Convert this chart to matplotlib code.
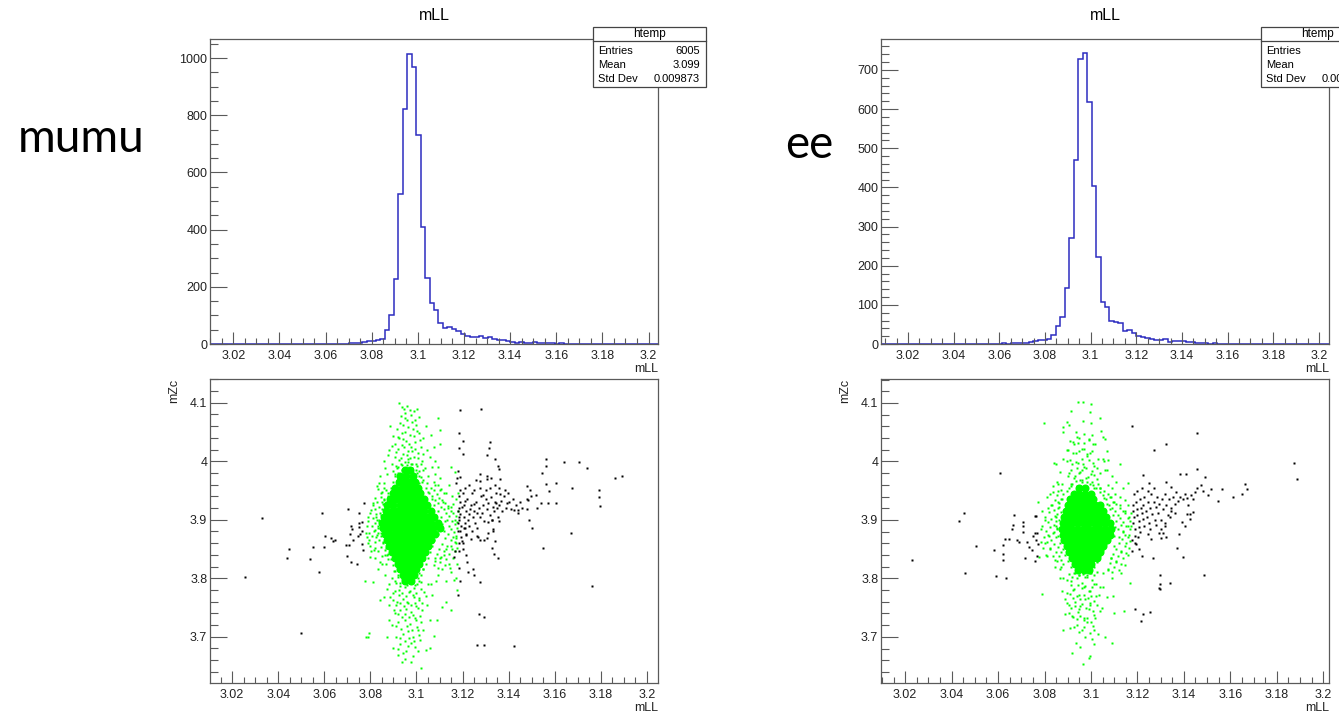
import numpy as np
import matplotlib.pyplot as plt
from matplotlib.patches import Rectangle
from matplotlib.ticker import MultipleLocator, FormatStrFormatter

plt.rcParams['font.family'] = ['Liberation Sans', 'DejaVu Sans']

W, H = 1339, 712

# ---------------------------------------------------------
# mLL histograms (100 bins each)
# ---------------------------------------------------------
mumu_hist_range = (3.0099, 3.2041)
mumu_counts = [
    0, 0, 0, 0, 0, 0, 0, 0, 0, 0,
    0, 0, 0, 0, 0, 0, 0, 0, 1, 0,
    0, 0, 0, 0, 0, 0, 1, 1, 0, 1,
    0, 2, 3, 2, 8, 12, 10, 13, 17, 50,
    102, 228, 524, 822, 1016, 970, 732, 410, 232, 142,
    120, 73, 56, 59, 52, 47, 35, 27, 25, 24,
    28, 20, 25, 19, 15, 15, 12, 6, 5, 8,
    5, 4, 6, 4, 3, 3, 2, 1, 2, 1,
    1, 0, 1, 0, 1, 0, 0, 1, 0, 0,
    0, 0, 0, 0, 0, 0, 0, 0, 0, 0,
]
mumu_stats = ("6005", "3.099", "0.009873")

ee_hist_range = (3.0082, 3.2044)
ee_counts = [
    0, 0, 0, 0, 0, 0, 0, 1, 0, 0,
    0, 0, 0, 0, 0, 0, 1, 1, 0, 1,
    0, 0, 0, 0, 0, 1, 1, 2, 1, 2,
    2, 3, 3, 4, 8, 10, 11, 13, 24, 47,
    68, 144, 271, 469, 728, 742, 618, 404, 223, 107,
    95, 60, 55, 53, 32, 36, 28, 21, 19, 15,
    14, 10, 9, 14, 6, 7, 7, 7, 5, 4,
    2, 3, 2, 1, 2, 1, 1, 0, 0, 0,
    1, 0, 0, 0, 0, 0, 0, 0, 0, 0,
    0, 1, 0, 0, 0, 0, 0, 0, 0, 0,
]
ee_stats = ("4422", "3.099", "0.009752")

# ---------------------------------------------------------
# mZc vs mLL, events outside the window (black)
# ---------------------------------------------------------
mumu_black = np.array([
    (3.0330, 3.903), (3.0257, 3.802), (3.0500, 3.707), (3.0445, 3.850),
    (3.0438, 3.835), (3.0549, 3.853), (3.0539, 3.832), (3.0577, 3.811),
    (3.0590, 3.912), (3.0597, 3.854), (3.0604, 3.873), (3.0630, 3.868),
    (3.0645, 3.866), (3.0639, 3.864), (3.0703, 3.918), (3.0694, 3.856),
    (3.0708, 3.856), (3.0698, 3.838), (3.0716, 3.889), (3.0720, 3.884),
    (3.0710, 3.876), (3.0723, 3.866), (3.0717, 3.827), (3.0744, 3.825),
    (3.0750, 3.912), (3.0749, 3.894), (3.0752, 3.887), (3.0765, 3.896),
    (3.0747, 3.873), (3.0756, 3.875), (3.0762, 3.858), (3.0769, 3.849),
    (3.0772, 3.928), (3.0765, 3.880),
    (3.1190, 4.087), (3.1280, 4.089), (3.1183, 4.049), (3.1203, 4.035),
    (3.1183, 4.022), (3.1200, 4.012), (3.1320, 4.032), (3.1314, 4.023),
    (3.1304, 4.011), (3.1339, 4.003), (3.1355, 3.992), (3.1360, 3.987),
    (3.1274, 3.978), (3.1307, 3.974), (3.1308, 3.969), (3.1324, 3.971),
    (3.1364, 3.969), (3.1341, 3.960), (3.1260, 3.968), (3.1276, 3.967),
    (3.1181, 3.984), (3.1188, 3.973), (3.1176, 3.971), (3.1173, 3.963),
    (3.1564, 4.003), (3.1561, 3.991), (3.1545, 3.980), (3.1642, 3.999),
    (3.1707, 3.999), (3.1740, 3.988), (3.1860, 3.972), (3.1893, 3.974),
    (3.1564, 3.961), (3.1606, 3.962), (3.1574, 3.949), (3.1676, 3.955),
    (3.1793, 3.950), (3.1791, 3.938), (3.1797, 3.924), (3.1570, 3.929),
    (3.1604, 3.929), (3.1541, 3.928), (3.1478, 3.958), (3.1492, 3.951),
    (3.1518, 3.943), (3.1498, 3.941), (3.1478, 3.935), (3.1484, 3.934),
    (3.1521, 3.920), (3.1480, 3.918), (3.1440, 3.917), (3.1425, 3.916),
    (3.1393, 3.929), (3.1386, 3.951), (3.1397, 3.946), (3.1359, 3.955),
    (3.1361, 3.944), (3.1368, 3.932), (3.1345, 3.928), (3.1488, 3.899),
    (3.1501, 3.885), (3.1359, 3.898), (3.1327, 3.899), (3.1334, 3.884),
    (3.1330, 3.880), (3.1339, 3.864), (3.1309, 3.896), (3.1309, 3.877),
    (3.1326, 3.852), (3.1338, 3.841), (3.1354, 3.834), (3.1295, 3.865),
    (3.1306, 3.868), (3.1276, 3.865), (3.1261, 3.872), (3.1235, 3.867),
    (3.1196, 3.863), (3.1215, 3.874), (3.1179, 3.880), (3.1167, 3.847),
    (3.1186, 3.847), (3.1164, 3.836), (3.1219, 3.828), (3.1186, 3.818),
    (3.1190, 3.796), (3.1222, 3.810), (3.1247, 3.816), (3.1251, 3.806),
    (3.1277, 3.793), (3.1179, 3.772), (3.1551, 3.852), (3.1670, 3.878),
    (3.1763, 3.786), (3.1271, 3.739), (3.1291, 3.733), (3.1262, 3.685),
    (3.1291, 3.685), (3.1422, 3.684),
    (3.1185, 3.940), (3.1190, 3.930), (3.1185, 3.920), (3.1190, 3.910),
    (3.1185, 3.900), (3.1192, 3.890), (3.1188, 3.880), (3.1195, 3.870),
    (3.1200, 3.945), (3.1205, 3.925), (3.1205, 3.905), (3.1210, 3.895),
    (3.1205, 3.885), (3.1215, 3.915), (3.1220, 3.935), (3.1225, 3.900),
    (3.1230, 3.910), (3.1228, 3.890), (3.1235, 3.925), (3.1240, 3.945),
    (3.1245, 3.905), (3.1250, 3.915), (3.1255, 3.895), (3.1260, 3.930),
    (3.1262, 3.885), (3.1270, 3.920), (3.1275, 3.905), (3.1280, 3.940),
    (3.1285, 3.912), (3.1290, 3.925), (3.1295, 3.898), (3.1300, 3.935),
    (3.1305, 3.918), (3.1312, 3.928), (3.1318, 3.908), (3.1322, 3.938),
    (3.1330, 3.922), (3.1335, 3.915), (3.1340, 3.930), (3.1345, 3.945),
    (3.1350, 3.920), (3.1355, 3.905), (3.1360, 3.925), (3.1370, 3.915),
    (3.1380, 3.940), (3.1390, 3.920), (3.1400, 3.930), (3.1410, 3.918),
    (3.1420, 3.935), (3.1430, 3.925), (3.1440, 3.912), (3.1450, 3.930),
    (3.1460, 3.920), (3.1200, 3.860), (3.1215, 3.875), (3.1240, 3.880),
    (3.1265, 3.870), (3.1190, 3.950), (3.1210, 3.955), (3.1230, 3.960),
    (3.1250, 3.950), (3.1275, 3.955), (3.1300, 3.950), (3.1320, 3.955),
    (3.1180, 3.895), (3.1182, 3.915), (3.1183, 3.905), (3.1197, 3.922),
    (3.1212, 3.932), (3.1232, 3.918), (3.1248, 3.926), (3.1263, 3.912),
    (3.1290, 3.942), (3.1328, 3.900), (3.1210, 3.885), (3.1185, 3.860),
    (3.1200, 3.850), (3.1215, 3.840),
])

ee_black = np.array([
    (3.0231, 3.831), (3.0432, 3.898), (3.0452, 3.912), (3.0459, 3.809),
    (3.0503, 3.855), (3.0581, 3.848), (3.0593, 3.804), (3.0608, 3.980),
    (3.0620, 3.841), (3.0622, 3.831), (3.0622, 3.857), (3.0628, 3.868),
    (3.0634, 3.800), (3.0648, 3.868), (3.0661, 3.884), (3.0664, 3.891),
    (3.0668, 3.908), (3.0682, 3.866), (3.0692, 3.863), (3.0707, 3.896),
    (3.0708, 3.889), (3.0706, 3.880), (3.0714, 3.835), (3.0724, 3.863),
    (3.0735, 3.853), (3.0748, 3.848), (3.0751, 3.873), (3.0760, 3.829),
    (3.0766, 3.839), (3.0759, 3.906), (3.0765, 3.906), (3.0759, 3.877),
    (3.0768, 3.877), (3.0762, 3.866), (3.0771, 3.858),
    (3.1176, 4.061), (3.1455, 4.048), (3.1270, 4.020), (3.1324, 4.029),
    (3.1226, 3.976), (3.1382, 3.979), (3.1409, 3.979), (3.1458, 3.987),
    (3.1250, 3.963), (3.1324, 3.964), (3.1490, 3.973), (3.1476, 3.960),
    (3.1343, 3.956), (3.1455, 3.954), (3.1482, 3.949), (3.1519, 3.952),
    (3.1563, 3.952), (3.1504, 3.943), (3.1549, 3.932), (3.1610, 3.939),
    (3.1651, 3.945), (3.1664, 3.962), (3.1673, 3.953), (3.1876, 3.997),
    (3.1886, 3.970), (3.1485, 3.805), (3.1296, 3.805), (3.1293, 3.784),
    (3.1296, 3.782), (3.1299, 3.790), (3.1339, 3.792), (3.1189, 3.747),
    (3.1226, 3.739), (3.1253, 3.742), (3.1215, 3.727), (3.1369, 3.852),
    (3.1398, 3.836), (3.1267, 3.835), (3.1218, 3.838), (3.1176, 3.846),
    (3.1176, 3.866), (3.1196, 3.858), (3.1204, 3.870), (3.1245, 3.876),
    (3.1257, 3.867), (3.1291, 3.878), (3.1311, 3.878), (3.1302, 3.869),
    (3.1379, 3.876), (3.1319, 3.889), (3.1392, 3.897), (3.1419, 3.925),
    (3.1426, 3.910), (3.1415, 3.910), (3.1439, 3.914), (3.1426, 3.902),
    (3.1343, 3.916),
    (3.1180, 3.925), (3.1182, 3.915), (3.1185, 3.905), (3.1183, 3.895),
    (3.1188, 3.885), (3.1190, 3.872), (3.1195, 3.930), (3.1198, 3.918),
    (3.1200, 3.908), (3.1205, 3.898), (3.1208, 3.888), (3.1210, 3.935),
    (3.1215, 3.920), (3.1218, 3.912), (3.1222, 3.902), (3.1225, 3.925),
    (3.1230, 3.940), (3.1235, 3.915), (3.1240, 3.905), (3.1245, 3.930),
    (3.1250, 3.895), (3.1255, 3.920), (3.1260, 3.945), (3.1265, 3.910),
    (3.1270, 3.930), (3.1275, 3.900), (3.1280, 3.922), (3.1285, 3.940),
    (3.1290, 3.912), (3.1295, 3.928), (3.1300, 3.900), (3.1305, 3.935),
    (3.1312, 3.918), (3.1318, 3.945), (3.1325, 3.925), (3.1330, 3.908),
    (3.1338, 3.935), (3.1345, 3.920), (3.1352, 3.940), (3.1360, 3.928),
    (3.1368, 3.948), (3.1375, 3.932), (3.1385, 3.940), (3.1395, 3.935),
    (3.1405, 3.945), (3.1415, 3.938), (3.1430, 3.942), (3.1440, 3.935),
    (3.1450, 3.948), (3.1210, 3.880), (3.1230, 3.890), (3.1255, 3.885),
    (3.1280, 3.892), (3.1300, 3.885), (3.1320, 3.895), (3.1340, 3.905),
    (3.1360, 3.912), (3.1185, 3.945), (3.1200, 3.950), (3.1220, 3.955),
    (3.1245, 3.950), (3.1270, 3.955), (3.1190, 3.860), (3.1205, 3.850),
    (3.1325, 3.870), (3.1405, 3.890),
])

# ---------------------------------------------------------
# events inside the window (green): halo points + dense core rows
# ---------------------------------------------------------
mumu_green = np.array([
    # top of the column
    (3.0922, 4.0995), (3.0936, 4.093), (3.0945, 4.090), (3.0960, 4.095),
    (3.0952, 4.083), (3.0970, 4.088), (3.0990, 4.086), (3.1003, 4.090),
    (3.1010, 4.075), (3.0931, 4.078), (3.0960, 4.070), (3.0980, 4.067),
    (3.1000, 4.062), (3.0940, 4.062), (3.0898, 4.043), (3.0915, 4.055),
    (3.0925, 4.040), (3.0950, 4.050), (3.0970, 4.045), (3.0985, 4.055),
    (3.1012, 4.048), (3.1030, 4.040), (3.1095, 4.074), (3.1104, 4.054),
    (3.1100, 4.030), (3.0905, 4.030), (3.0935, 4.028), (3.0955, 4.035),
    (3.0975, 4.025), (3.0995, 4.032), (3.1020, 4.025), (3.1045, 4.020),
    (3.0880, 4.020), (3.0912, 4.015), (3.0940, 4.012), (3.0962, 4.018),
    (3.0990, 4.008), (3.1008, 4.014), (3.0925, 4.002), (3.0950, 3.998),
    (3.0972, 4.005), (3.0998, 3.995), (3.1025, 4.000), (3.0895, 3.995),
    (3.0915, 3.988), (3.0938, 3.985), (3.0960, 3.982), (3.0982, 3.988),
    (3.1004, 3.980), (3.1030, 3.985), (3.0870, 3.978), (3.0905, 3.975),
    (3.0928, 3.972), (3.0950, 3.976), (3.0975, 3.972), (3.0995, 3.975),
    (3.1018, 3.973), (3.1050, 3.975), (3.1080, 3.978), (3.1095, 3.990),
    (3.1080, 4.000), (3.0860, 4.000), (3.1168, 3.982), (3.1150, 3.990),
    (3.0898, 3.983), (3.0912, 3.992), (3.0921, 3.979), (3.0934, 3.996),
    (3.0945, 3.988), (3.0957, 3.993), (3.0963, 4.003), (3.0978, 3.996),
    (3.0986, 3.980), (3.1003, 3.991), (3.1012, 3.984), (3.1021, 3.995),
    (3.1038, 3.988), (3.0908, 4.008), (3.0921, 4.021), (3.0933, 4.006),
    (3.0947, 4.024), (3.0958, 4.011), (3.0969, 4.029), (3.0981, 4.017),
    (3.0995, 4.021), (3.1007, 4.005), (3.1015, 4.036), (3.1029, 4.012),
    (3.0892, 4.026), (3.0918, 4.041), (3.0942, 4.038), (3.0965, 4.058),
    (3.0988, 4.043), (3.1002, 4.052), (3.0928, 4.065), (3.0951, 4.073),
    (3.0975, 4.079), (3.0993, 4.071), (3.0939, 4.048), (3.1040, 4.060),
    (3.1063, 4.045), (3.1074, 4.025), (3.0875, 4.010), (3.0862, 3.988),
    (3.0885, 4.060), (3.1058, 4.008), (3.1068, 3.990), (3.0918, 3.968),
    (3.0942, 3.965), (3.0969, 3.963), (3.0992, 3.968), (3.1013, 3.962),
    (3.1030, 3.968),
    # just outside the saturated core
    (3.0858, 3.935), (3.0865, 3.925), (3.0852, 3.918), (3.0845, 3.908),
    (3.0838, 3.898), (3.0840, 3.885), (3.0848, 3.872), (3.0855, 3.862),
    (3.0866, 3.852), (3.0878, 3.842), (3.0888, 3.832), (3.0898, 3.822),
    (3.0905, 3.812), (3.0918, 3.802), (3.0930, 3.792), (3.1010, 3.795),
    (3.1020, 3.805), (3.1030, 3.815), (3.1040, 3.825), (3.1048, 3.835),
    (3.1058, 3.845), (3.1068, 3.855), (3.1078, 3.865), (3.1092, 3.875),
    (3.1105, 3.882), (3.1112, 3.892), (3.1105, 3.905), (3.1092, 3.915),
    (3.1078, 3.925), (3.1068, 3.935), (3.1055, 3.945), (3.1040, 3.955),
    (3.1025, 3.965), (3.1012, 3.975), (3.0998, 3.985), (3.0875, 3.945),
    (3.0888, 3.955), (3.0898, 3.965), (3.0908, 3.978), (3.0918, 3.990),
    (3.0980, 3.995), (3.0962, 3.999), (3.0936, 3.993), (3.1118, 3.880),
    (3.1125, 3.898), (3.1088, 3.888), (3.0832, 3.890), (3.0826, 3.905),
    (3.0835, 3.878), (3.0850, 3.930),
    # left and right flanks of the core
    (3.0843, 3.974), (3.0839, 3.962), (3.0821, 3.937), (3.0802, 3.917),
    (3.0810, 3.925), (3.0790, 3.905), (3.0785, 3.890), (3.0780, 3.878),
    (3.0792, 3.866), (3.0800, 3.855), (3.0815, 3.848), (3.0800, 3.836),
    (3.0820, 3.835), (3.0825, 3.870), (3.0830, 3.900), (3.0818, 3.882),
    (3.0775, 3.795), (3.0812, 3.793), (3.0835, 3.815), (3.0850, 3.825),
    (3.0865, 3.840), (3.0845, 3.945), (3.0860, 3.955), (3.0870, 3.930),
    (3.0835, 3.952), (3.0852, 3.947), (3.0868, 3.951), (3.0846, 3.938),
    (3.0861, 3.934), (3.0829, 3.931), (3.0877, 3.940), (3.0838, 3.922),
    (3.0853, 3.926), (3.0818, 3.918), (3.0866, 3.919), (3.0842, 3.912),
    (3.0826, 3.909), (3.0859, 3.907), (3.0811, 3.903), (3.0837, 3.899),
    (3.0848, 3.893), (3.0822, 3.894), (3.0805, 3.889), (3.0832, 3.886),
    (3.0815, 3.881), (3.0846, 3.878), (3.0827, 3.874), (3.0808, 3.872),
    (3.0839, 3.866), (3.0855, 3.861), (3.0821, 3.862), (3.0846, 3.853),
    (3.0862, 3.848), (3.0833, 3.846), (3.0871, 3.840), (3.0852, 3.838),
    (3.0878, 3.832), (3.0843, 3.828), (3.0868, 3.824), (3.0795, 3.878),
    (3.0788, 3.897), (3.0798, 3.912), (3.0812, 3.928), (3.0791, 3.860),
    (3.0803, 3.846), (3.0819, 3.852), (3.0784, 3.871), (3.0830, 3.958),
    (3.0858, 3.962),
    (3.1080, 3.960), (3.1100, 3.950), (3.1120, 3.945), (3.1115, 3.930),
    (3.1135, 3.920), (3.1150, 3.915), (3.1165, 3.900), (3.1175, 3.885),
    (3.1160, 3.870), (3.1170, 3.860), (3.1150, 3.855), (3.1130, 3.850),
    (3.1120, 3.840), (3.1100, 3.835), (3.1080, 3.830), (3.1160, 3.835),
    (3.1140, 3.825), (3.1175, 3.825), (3.1110, 3.815), (3.1150, 3.810),
    (3.1170, 3.800), (3.1095, 3.805), (3.1130, 3.795), (3.1161, 3.797),
    (3.1175, 3.780), (3.1065, 3.790), (3.1085, 3.795), (3.1178, 3.915),
    (3.1178, 3.945), (3.1140, 3.960), (3.1100, 3.972),
    (3.1045, 3.962), (3.1062, 3.955), (3.1078, 3.950), (3.1052, 3.948),
    (3.1088, 3.944), (3.1069, 3.941), (3.1097, 3.937), (3.1080, 3.933),
    (3.1112, 3.934), (3.1094, 3.928), (3.1125, 3.928), (3.1105, 3.922),
    (3.1138, 3.924), (3.1118, 3.918), (3.1150, 3.921), (3.1128, 3.912),
    (3.1160, 3.912), (3.1142, 3.906), (3.1172, 3.907), (3.1133, 3.900),
    (3.1155, 3.898), (3.1168, 3.893), (3.1140, 3.890), (3.1176, 3.896),
    (3.1150, 3.884), (3.1162, 3.879), (3.1137, 3.876), (3.1173, 3.873),
    (3.1122, 3.868), (3.1148, 3.865), (3.1165, 3.862), (3.1110, 3.858),
    (3.1133, 3.855), (3.1155, 3.850), (3.1098, 3.850), (3.1120, 3.846),
    (3.1143, 3.842), (3.1090, 3.842), (3.1108, 3.837), (3.1130, 3.833),
    (3.1167, 3.846), (3.1082, 3.834), (3.1100, 3.828), (3.1122, 3.822),
    (3.1075, 3.823), (3.1092, 3.818), (3.1145, 3.817), (3.1170, 3.868),
    (3.1177, 3.852), (3.1158, 3.927), (3.1172, 3.936), (3.1108, 3.952),
    (3.1128, 3.946), (3.1152, 3.941), (3.1075, 3.965), (3.1093, 3.960),
    # lower column
    (3.0902, 3.812), (3.0918, 3.806), (3.0931, 3.814), (3.0947, 3.809),
    (3.0963, 3.812), (3.0979, 3.806), (3.0994, 3.813), (3.1010, 3.809),
    (3.1027, 3.815), (3.0895, 3.801), (3.0912, 3.792), (3.0927, 3.786),
    (3.0943, 3.793), (3.0958, 3.788), (3.0974, 3.791), (3.0989, 3.783),
    (3.1003, 3.790), (3.1019, 3.794), (3.0906, 3.778), (3.0922, 3.771),
    (3.0938, 3.774), (3.0953, 3.769), (3.0969, 3.776), (3.0984, 3.771),
    (3.1000, 3.774), (3.1013, 3.766), (3.1032, 3.776), (3.0897, 3.762),
    (3.0913, 3.754), (3.0930, 3.757), (3.0945, 3.752), (3.0960, 3.760),
    (3.0977, 3.754), (3.0992, 3.758), (3.1008, 3.749), (3.1025, 3.758),
    (3.0903, 3.745), (3.0921, 3.738), (3.0937, 3.734), (3.0952, 3.739),
    (3.0966, 3.733), (3.0983, 3.737), (3.0998, 3.729), (3.1016, 3.736),
    (3.1045, 3.755), (3.1052, 3.790), (3.1068, 3.772), (3.0872, 3.782),
    (3.0865, 3.805), (3.0885, 3.768),
    (3.0920, 3.669), (3.0938, 3.657), (3.1021, 3.646), (3.0870, 3.700),
    (3.0782, 3.700), (3.0790, 3.700), (3.0795, 3.707), (3.0843, 3.762),
    (3.0857, 3.768), (3.0900, 3.680), (3.0930, 3.688), (3.0955, 3.675),
    (3.0975, 3.690), (3.0995, 3.682), (3.1015, 3.695), (3.1040, 3.678),
    (3.0910, 3.700), (3.0940, 3.705), (3.0965, 3.710), (3.0985, 3.700),
    (3.1005, 3.712), (3.0895, 3.720), (3.0920, 3.725), (3.0948, 3.728),
    (3.0970, 3.722), (3.0992, 3.732), (3.1020, 3.725), (3.1060, 3.728),
    (3.1088, 3.728), (3.0905, 3.740), (3.0928, 3.745), (3.0955, 3.748),
    (3.0978, 3.742), (3.1000, 3.752), (3.1025, 3.745), (3.1150, 3.745),
    (3.0880, 3.755), (3.0915, 3.760), (3.0940, 3.765), (3.0962, 3.758),
    (3.0988, 3.768), (3.1010, 3.762), (3.1040, 3.770), (3.0898, 3.775),
    (3.0925, 3.780), (3.0950, 3.785), (3.0972, 3.778), (3.0995, 3.788),
    (3.1018, 3.782), (3.0880, 3.790), (3.0908, 3.795), (3.0935, 3.798),
    (3.0960, 3.800), (3.0985, 3.795), (3.1005, 3.800), (3.1060, 3.680),
    (3.1130, 3.760), (3.1110, 3.750),
    (3.0912, 3.718), (3.0934, 3.713), (3.0958, 3.718), (3.0979, 3.711),
    (3.1001, 3.716), (3.0927, 3.697), (3.0949, 3.693), (3.0967, 3.698),
    (3.0990, 3.692), (3.1012, 3.703), (3.0918, 3.679), (3.0943, 3.672),
    (3.0962, 3.684), (3.0985, 3.667), (3.1008, 3.675), (3.0952, 3.662),
    (3.0978, 3.656), (3.1030, 3.712), (3.1075, 3.702), (3.0880, 3.728),
])
mumu_core_rows = [
    (3.985, [3.0948, 3.0972]),
    (3.975, [3.0930, 3.0955, 3.0985]),
    (3.965, [3.0922, 3.0946, 3.0970, 3.0995]),
    (3.955, [3.0908, 3.0935, 3.0958, 3.0982, 3.1005]),
    (3.945, [3.0898, 3.0922, 3.0945, 3.0968, 3.0990, 3.1015]),
    (3.935, [3.0885, 3.0912, 3.0936, 3.0960, 3.0982, 3.1005, 3.1032]),
    (3.925, [3.0872, 3.0900, 3.0927, 3.0950, 3.0974, 3.0997, 3.1020, 3.1045]),
    (3.915, [3.0866, 3.0892, 3.0916, 3.0940, 3.0963, 3.0987, 3.1010, 3.1034, 3.1062]),
    (3.905, [3.0858, 3.0882, 3.0906, 3.0930, 3.0954, 3.0978, 3.1002, 3.1026, 3.1050, 3.1078]),
    (3.895, [3.0850, 3.0872, 3.0896, 3.0920, 3.0944, 3.0968, 3.0992, 3.1016, 3.1040, 3.1064, 3.1092]),
    (3.885, [3.0855, 3.0878, 3.0902, 3.0926, 3.0950, 3.0974, 3.0998, 3.1022, 3.1046, 3.1070, 3.1100]),
    (3.875, [3.0862, 3.0886, 3.0910, 3.0934, 3.0958, 3.0982, 3.1006, 3.1030, 3.1054, 3.1082]),
    (3.865, [3.0872, 3.0896, 3.0920, 3.0944, 3.0968, 3.0992, 3.1016, 3.1040, 3.1062]),
    (3.855, [3.0880, 3.0905, 3.0930, 3.0954, 3.0978, 3.1002, 3.1026, 3.1048]),
    (3.845, [3.0895, 3.0918, 3.0942, 3.0966, 3.0990, 3.1014, 3.1035]),
    (3.835, [3.0908, 3.0932, 3.0956, 3.0980, 3.1004, 3.1022]),
    (3.825, [3.0918, 3.0942, 3.0966, 3.0990, 3.1010]),
    (3.815, [3.0928, 3.0952, 3.0976, 3.0998]),
    (3.805, [3.0940, 3.0965, 3.0988]),
    (3.795, [3.0950, 3.0975]),
]

ee_green = np.array([
    # top of the column
    (3.0943, 4.101), (3.0965, 4.101), (3.0999, 4.098), (3.0965, 4.070),
    (3.0995, 4.085), (3.1000, 4.065), (3.0914, 4.087), (3.0896, 4.068),
    (3.0905, 4.062), (3.0881, 4.059), (3.0878, 4.050), (3.0934, 4.051),
    (3.0798, 4.065), (3.1040, 4.074), (3.1054, 4.042), (3.0910, 4.035),
    (3.0928, 4.030), (3.0950, 4.040), (3.0968, 4.032), (3.0990, 4.038),
    (3.1010, 4.030), (3.0900, 4.020), (3.0935, 4.015), (3.0960, 4.022),
    (3.0982, 4.012), (3.1005, 4.018), (3.1050, 4.005), (3.1075, 4.003),
    (3.1125, 3.995), (3.0840, 3.997), (3.0850, 3.996), (3.0855, 3.965),
    (3.0875, 3.962), (3.0895, 4.000), (3.0920, 3.995), (3.0945, 3.998),
    (3.0968, 3.990), (3.0990, 4.002), (3.1015, 3.992), (3.0905, 3.980),
    (3.0930, 3.975), (3.0955, 3.982), (3.0978, 3.972), (3.1000, 3.978),
    (3.1025, 3.970), (3.1060, 3.985), (3.1090, 3.975), (3.1110, 3.965),
    (3.1161, 3.963), (3.1140, 3.955), (3.0915, 3.962), (3.0940, 3.958),
    (3.0962, 3.965), (3.0985, 3.955), (3.1008, 3.960), (3.1040, 3.955),
    (3.0900, 3.975), (3.0915, 3.985), (3.0925, 3.971), (3.0938, 3.989),
    (3.0948, 3.980), (3.0960, 3.986), (3.0966, 3.996), (3.0980, 3.989),
    (3.0988, 3.973), (3.1005, 3.984), (3.1015, 3.977), (3.1024, 3.988),
    (3.1040, 3.981), (3.0910, 4.002), (3.0924, 4.014), (3.0936, 3.999),
    (3.0950, 4.017), (3.0961, 4.004), (3.0972, 4.022), (3.0984, 4.010),
    (3.0997, 4.014), (3.1010, 3.998), (3.1018, 4.029), (3.1032, 4.005),
    (3.0895, 4.019), (3.0921, 4.034), (3.0945, 4.031), (3.0968, 4.047),
    (3.0990, 4.036), (3.1004, 4.045), (3.0940, 4.041), (3.1045, 4.052),
    (3.1062, 4.038), (3.1070, 4.018), (3.0878, 4.004), (3.0865, 3.982),
    (3.1058, 4.000), (3.1068, 3.985), (3.0920, 3.962), (3.0945, 3.958),
    (3.0970, 3.956), (3.0995, 3.961), (3.1015, 3.955), (3.1032, 3.961),
    (3.0905, 3.955), (3.0955, 3.968), (3.0985, 3.964),
    # just outside the saturated core
    (3.0880, 3.945), (3.0870, 3.935), (3.0862, 3.922), (3.0855, 3.910),
    (3.0850, 3.898), (3.0855, 3.884), (3.0860, 3.872), (3.0868, 3.860),
    (3.0878, 3.850), (3.0888, 3.840), (3.0900, 3.830), (3.0912, 3.820),
    (3.0925, 3.810), (3.0950, 3.805), (3.0975, 3.803), (3.1000, 3.810),
    (3.1015, 3.820), (3.1028, 3.828), (3.1040, 3.838), (3.1052, 3.848),
    (3.1065, 3.858), (3.1078, 3.868), (3.1090, 3.878), (3.1102, 3.888),
    (3.1110, 3.898), (3.1095, 3.908), (3.1082, 3.918), (3.1068, 3.928),
    (3.1055, 3.938), (3.1038, 3.948), (3.1020, 3.955), (3.1005, 3.965),
    (3.0960, 3.968), (3.0935, 3.966), (3.0912, 3.958), (3.0895, 3.950),
    (3.1115, 3.885), (3.1098, 3.872), (3.0848, 3.890), (3.0858, 3.930),
    # left and right flanks of the core
    (3.0773, 3.930), (3.0790, 3.915), (3.0810, 3.940), (3.0830, 3.925),
    (3.0800, 3.900), (3.0785, 3.885), (3.0815, 3.875), (3.0800, 3.860),
    (3.0825, 3.850), (3.0776, 3.836), (3.0810, 3.838), (3.0845, 3.832),
    (3.0860, 3.950), (3.0870, 3.845), (3.0850, 3.905), (3.0840, 3.880),
    (3.0838, 3.948), (3.0855, 3.942), (3.0870, 3.951), (3.0846, 3.934),
    (3.0862, 3.929), (3.0831, 3.925), (3.0877, 3.936), (3.0842, 3.917),
    (3.0856, 3.921), (3.0820, 3.913), (3.0869, 3.913), (3.0845, 3.906),
    (3.0828, 3.902), (3.0861, 3.899), (3.0813, 3.896), (3.0839, 3.892),
    (3.0852, 3.886), (3.0824, 3.887), (3.0808, 3.881), (3.0835, 3.878),
    (3.0818, 3.872), (3.0849, 3.871), (3.0829, 3.866), (3.0810, 3.862),
    (3.0841, 3.858), (3.0857, 3.853), (3.0823, 3.852), (3.0848, 3.845),
    (3.0864, 3.839), (3.0835, 3.838), (3.0873, 3.832), (3.0854, 3.829),
    (3.0880, 3.824), (3.0845, 3.820), (3.0868, 3.816), (3.0797, 3.870),
    (3.0790, 3.890), (3.0800, 3.905), (3.0815, 3.921), (3.0793, 3.852),
    (3.0806, 3.840), (3.0786, 3.863), (3.0835, 3.958), (3.0860, 3.962),
    (3.0822, 3.945),
    (3.1080, 3.940), (3.1100, 3.930), (3.1125, 3.925), (3.1145, 3.915),
    (3.1165, 3.905), (3.1160, 3.890), (3.1140, 3.880), (3.1165, 3.875),
    (3.1120, 3.870), (3.1150, 3.860), (3.1100, 3.855), (3.1130, 3.845),
    (3.1160, 3.840), (3.1085, 3.835), (3.1110, 3.828), (3.1145, 3.822),
    (3.1075, 3.815), (3.1130, 3.810), (3.1170, 3.792), (3.1090, 3.800),
    (3.1050, 3.810), (3.1095, 3.770), (3.1101, 3.740), (3.1143, 3.744),
    (3.1040, 3.955), (3.1058, 3.950), (3.1075, 3.945), (3.1050, 3.942),
    (3.1085, 3.939), (3.1066, 3.935), (3.1095, 3.931), (3.1078, 3.926),
    (3.1110, 3.927), (3.1092, 3.921), (3.1123, 3.921), (3.1104, 3.915),
    (3.1136, 3.916), (3.1116, 3.909), (3.1148, 3.911), (3.1126, 3.903),
    (3.1158, 3.903), (3.1140, 3.897), (3.1168, 3.898), (3.1131, 3.891),
    (3.1152, 3.889), (3.1166, 3.884), (3.1138, 3.881), (3.1172, 3.890),
    (3.1148, 3.875), (3.1160, 3.870), (3.1135, 3.867), (3.1170, 3.864),
    (3.1120, 3.860), (3.1145, 3.856), (3.1162, 3.852), (3.1108, 3.850),
    (3.1130, 3.847), (3.1152, 3.843), (3.1096, 3.842), (3.1118, 3.838),
    (3.1140, 3.834), (3.1088, 3.834), (3.1106, 3.829), (3.1128, 3.825),
    (3.1080, 3.826), (3.1098, 3.820), (3.1120, 3.815), (3.1073, 3.816),
    (3.1090, 3.811), (3.1160, 3.925), (3.1172, 3.912), (3.1105, 3.945),
    (3.1125, 3.940), (3.1148, 3.934), (3.1072, 3.960), (3.1090, 3.955),
    # lower column
    (3.1090, 3.690), (3.1060, 3.700), (3.0790, 3.774), (3.0870, 3.820),
    (3.0964, 3.653), (3.0990, 3.664), (3.0998, 3.668), (3.0918, 3.672),
    (3.0878, 3.711), (3.0890, 3.739), (3.1004, 3.697), (3.1030, 3.705),
    (3.0935, 3.690), (3.0955, 3.682), (3.0975, 3.700), (3.1015, 3.688),
    (3.0910, 3.715), (3.0940, 3.720), (3.0962, 3.712), (3.0985, 3.725),
    (3.1010, 3.718), (3.0920, 3.735), (3.0945, 3.742), (3.0968, 3.732),
    (3.0990, 3.748), (3.1012, 3.738), (3.1040, 3.745), (3.0905, 3.755),
    (3.0930, 3.760), (3.0952, 3.752), (3.0975, 3.765), (3.0998, 3.758),
    (3.1022, 3.770), (3.0895, 3.775), (3.0922, 3.780), (3.0948, 3.772),
    (3.0970, 3.785), (3.0994, 3.778), (3.1015, 3.790), (3.0912, 3.795),
    (3.0938, 3.800), (3.0960, 3.792), (3.0982, 3.805), (3.1005, 3.798),
    (3.0880, 3.800), (3.1040, 3.785),
    (3.0905, 3.808), (3.0920, 3.802), (3.0933, 3.810), (3.0949, 3.805),
    (3.0965, 3.808), (3.0981, 3.802), (3.0996, 3.809), (3.1012, 3.805),
    (3.1028, 3.811), (3.0898, 3.797), (3.0914, 3.788), (3.0929, 3.782),
    (3.0945, 3.789), (3.0960, 3.784), (3.0976, 3.787), (3.0991, 3.779),
    (3.1005, 3.786), (3.1021, 3.790), (3.0908, 3.774), (3.0924, 3.767),
    (3.0940, 3.770), (3.0955, 3.765), (3.0971, 3.772), (3.0986, 3.767),
    (3.1002, 3.770), (3.1015, 3.762), (3.1034, 3.772), (3.0899, 3.758),
    (3.0915, 3.750), (3.0932, 3.753), (3.0947, 3.748), (3.0962, 3.756),
    (3.0979, 3.750), (3.0994, 3.754), (3.1010, 3.745), (3.1027, 3.754),
    (3.0905, 3.741), (3.0923, 3.734), (3.0939, 3.730), (3.0954, 3.735),
    (3.0968, 3.729), (3.0985, 3.733), (3.1000, 3.725), (3.1018, 3.732),
    (3.1047, 3.750), (3.1054, 3.786), (3.1070, 3.768), (3.0874, 3.778),
    (3.0867, 3.801), (3.0887, 3.764), (3.0928, 3.716), (3.0950, 3.709),
    (3.0972, 3.716), (3.0994, 3.706), (3.1012, 3.712),
])
ee_core_rows = [
    (3.955, [3.0950, 3.0975]),
    (3.945, [3.0925, 3.0950, 3.0975, 3.1000]),
    (3.935, [3.0910, 3.0935, 3.0960, 3.0984, 3.1010]),
    (3.925, [3.0900, 3.0922, 3.0946, 3.0970, 3.0994, 3.1018, 3.1040]),
    (3.915, [3.0892, 3.0914, 3.0936, 3.0960, 3.0984, 3.1008, 3.1032, 3.1052]),
    (3.905, [3.0885, 3.0906, 3.0928, 3.0952, 3.0976, 3.1000, 3.1024, 3.1048, 3.1066]),
    (3.895, [3.0878, 3.0898, 3.0920, 3.0944, 3.0968, 3.0992, 3.1016, 3.1040, 3.1062, 3.1080]),
    (3.885, [3.0875, 3.0894, 3.0916, 3.0940, 3.0964, 3.0988, 3.1012, 3.1036, 3.1060, 3.1085]),
    (3.875, [3.0880, 3.0900, 3.0923, 3.0947, 3.0971, 3.0995, 3.1019, 3.1043, 3.1066, 3.1082]),
    (3.865, [3.0886, 3.0906, 3.0930, 3.0954, 3.0978, 3.1002, 3.1026, 3.1050, 3.1068]),
    (3.855, [3.0895, 3.0916, 3.0940, 3.0964, 3.0988, 3.1012, 3.1036, 3.1054]),
    (3.845, [3.0905, 3.0926, 3.0950, 3.0974, 3.0998, 3.1022, 3.1040]),
    (3.835, [3.0918, 3.0940, 3.0962, 3.0986, 3.1008, 3.1028]),
    (3.825, [3.0930, 3.0954, 3.0978, 3.1000]),
    (3.815, [3.0945, 3.0968, 3.0990]),
]

mumu_scatter_range = (3.0104, 3.2048, 3.6209, 4.1405)
ee_scatter_range = (3.0096, 3.2025, 3.6210, 4.1410)

FRAME = '#5a5a5a'
HIST_BLUE = '#2c2cc0'
GREEN = '#00ff00'

fig = plt.figure(figsize=(W / 100, H / 100), dpi=100)


def px_axes(left, top, right, bottom):
    return fig.add_axes([left / W, 1 - bottom / H, (right - left) / W, (bottom - top) / H])


def root_style(ax, ymajor, yminor, ylen, xlen):
    for sp in ax.spines.values():
        sp.set_color(FRAME)
        sp.set_linewidth(0.9)
    ax.xaxis.set_major_locator(MultipleLocator(0.02))
    ax.xaxis.set_minor_locator(MultipleLocator(0.005))
    ax.xaxis.set_major_formatter(FormatStrFormatter('%g'))
    ax.yaxis.set_major_locator(MultipleLocator(ymajor))
    ax.yaxis.set_minor_locator(MultipleLocator(yminor))
    ax.yaxis.set_major_formatter(FormatStrFormatter('%g'))
    ax.tick_params(which='both', direction='in', top=False, right=False,
                   color=FRAME, width=0.8, labelsize=9, labelcolor='#222222')
    ax.tick_params(axis='x', which='major', length=xlen, pad=4)
    ax.tick_params(axis='x', which='minor', length=xlen / 2)
    ax.tick_params(axis='y', which='major', length=ylen, pad=2)
    ax.tick_params(axis='y', which='minor', length=ylen / 2)
    ax.set_xlabel('mLL', loc='right', fontsize=9, labelpad=1, color='#222222')


def stats_box(x0, y0, x1, yline, rows, y1):
    # white box with a header cell, in pixel units of the figure
    box = Rectangle((x0 / W, 1 - y1 / H), (x1 - x0) / W, (y1 - y0) / H,
                    transform=fig.transFigure, facecolor='white',
                    edgecolor='#444444', linewidth=0.9, zorder=5)
    fig.patches.append(box)
    fig.add_artist(plt.Line2D([x0 / W, x1 / W], [1 - yline / H, 1 - yline / H],
                              color='#444444', linewidth=0.9, zorder=6))
    fig.text((x0 + x1) / 2 / W, 1 - (y0 + yline) / 2 / H, 'htemp',
             ha='center', va='center', fontsize=8.5, zorder=7)
    names = ['Entries', 'Mean', 'Std Dev']
    for i, (name, val) in enumerate(zip(names, rows)):
        yy = 1 - (yline + 10 + i * 14.5) / H
        fig.text((x0 + 5) / W, yy, name, ha='left', va='center', fontsize=8, zorder=7)
        fig.text((x1 - 6) / W, yy, val, ha='right', va='center', fontsize=8, zorder=7)


def hist_panel(left, right, counts, rng, ymax, ymajor, yminor, stats, box_x0):
    ax = px_axes(left, 39, right, 344)
    edges = np.linspace(rng[0], rng[1], len(counts) + 1)
    ax.stairs(counts, edges, color=HIST_BLUE, linewidth=1.1)
    ax.set_xlim(rng)
    ax.set_ylim(0, ymax)
    root_style(ax, ymajor, yminor, ylen=12, xlen=9)
    fig.text((left + right) / 2 / W, 1 - 15 / H, 'mLL', ha='center', va='center', fontsize=11.5)
    stats_box(box_x0, 27, box_x0 + 113, 40.5, stats, 87)
    return ax


def scatter_panel(left, right, black, green, core_rows, rng):
    ax = px_axes(left, 379, right, 683)
    core_x = [x for y, xs in core_rows for x in xs]
    core_y = [y for y, xs in core_rows for x in xs]
    ax.plot(core_x, core_y, ls='none', marker='o', ms=5.8, mec='none', color=GREEN)
    ax.plot(green[:, 0], green[:, 1], ls='none', marker='s', ms=2.0, mec='none', color=GREEN)
    ax.plot(black[:, 0], black[:, 1], ls='none', marker='s', ms=1.8, mec='none', color='black')
    ax.set_xlim(rng[0], rng[1])
    ax.set_ylim(rng[2], rng[3])
    root_style(ax, 0.1, 0.02, ylen=12, xlen=9)
    ax.set_ylabel('mZc', loc='top', fontsize=9, labelpad=7, color='#222222')
    return ax


# --- left column: mumu ---
hist_panel(210, 658, mumu_counts, mumu_hist_range, 1067, 200, 50, mumu_stats, 593)
scatter_panel(210, 658, mumu_black, mumu_green, mumu_core_rows, mumu_scatter_range)

# --- right column: ee (stats box runs past the right edge) ---
hist_panel(881, 1329, ee_counts, ee_hist_range, 779, 100, 20, ee_stats, 1261)
scatter_panel(881, 1329, ee_black, ee_green, ee_core_rows, ee_scatter_range)

fig.text(18 / W, 1 - 152 / H, 'mumu', ha='left', va='baseline', fontsize=33, family='Lato')
fig.text(785 / W, 1 - 158 / H, 'ee', ha='left', va='baseline', fontsize=33, family='Lato')

fig.savefig('out.png', dpi=100, facecolor='white')
